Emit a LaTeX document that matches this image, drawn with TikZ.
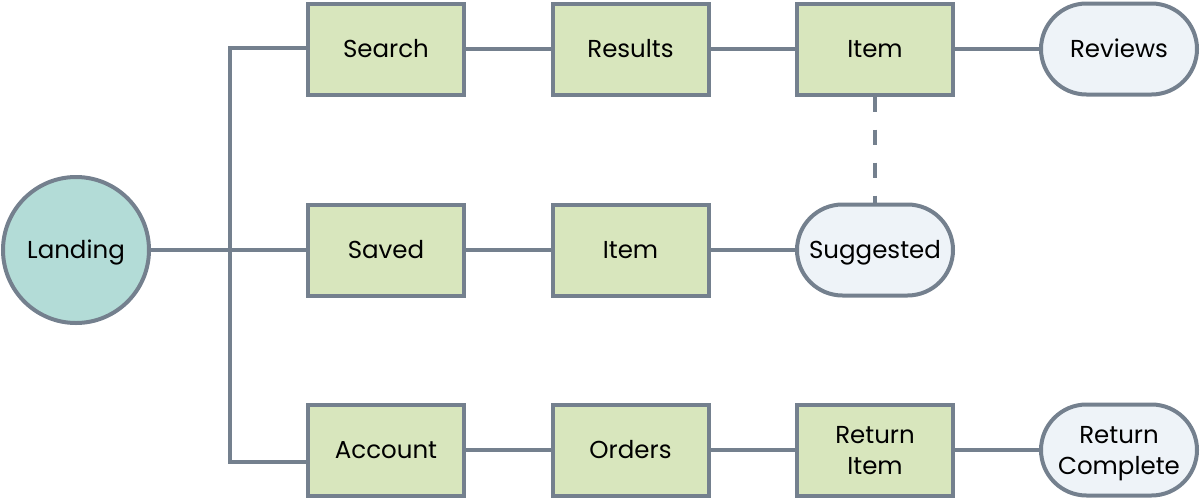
\documentclass[tikz,border=0pt]{standalone}
\usepackage{fontspec}
\setmainfont{Poppins}
\usetikzlibrary{shapes.misc}
\definecolor{edgec}{RGB}{116,128,142}
\definecolor{boxfill}{RGB}{216,230,189}
\definecolor{circfill}{RGB}{179,220,215}
\definecolor{pillfill}{RGB}{238,243,248}
\tikzset{
  base/.style={draw=edgec, line width=4pt, align=center, font=\fontsize{24.5}{30.5}\selectfont, text=black, inner sep=0pt, text height=17.5pt, text depth=0pt},
  twoline/.style={text height=48pt, text depth=0pt},
  pagebox/.style={base, rectangle, fill=boxfill, minimum width=156pt, minimum height=91pt},
  endpill/.style={base, rounded rectangle, fill=pillfill, minimum width=156pt, minimum height=91pt},
  startcirc/.style={base, circle, fill=circfill, minimum size=146pt},
  link/.style={draw=edgec, line width=4pt},
  dashlink/.style={link, dash pattern=on 15pt off 18pt}
}
\begin{document}
\begin{tikzpicture}[x=1pt,y=-1pt]
\useasboundingbox (0,0) rectangle (1200,499);
\node[startcirc] (landing) at (76,250) {Landing};
\node[pagebox] (search) at (386,49) {Search};
\node[pagebox] (results) at (630.5,49) {Results};
\node[pagebox] (item1) at (875,49) {Item};
\node[endpill] (reviews) at (1119,49) {Reviews};
\node[pagebox] (saved) at (386,250) {Saved};
\node[pagebox] (item2) at (630.5,250) {Item};
\node[endpill] (suggested) at (875,250) {Suggested};
\node[pagebox] (account) at (386,450) {Account};
\node[pagebox] (orders) at (630.5,450) {Orders};
\node[pagebox, twoline] (retitem) at (875,450) {Return\\Item};
\node[endpill, twoline] (retdone) at (1119,450) {Return\\Complete};
\coordinate (jt) at (230,48);
\coordinate (jb) at (230,462);
\draw[link] (search.west |- jt) -- (jt) -- (jb) -- (account.west |- jb);
\draw[link] (landing) -- (saved);
\draw[link] (search) -- (results);
\draw[link] (results) -- (item1);
\draw[link] (item1) -- (reviews);
\draw[link] (saved) -- (item2);
\draw[link] (item2) -- (suggested);
\draw[link] (account) -- (orders);
\draw[link] (orders) -- (retitem);
\draw[link] (retitem) -- (retdone);
\draw[dashlink] (item1) -- (suggested);
\end{tikzpicture}
\end{document}
